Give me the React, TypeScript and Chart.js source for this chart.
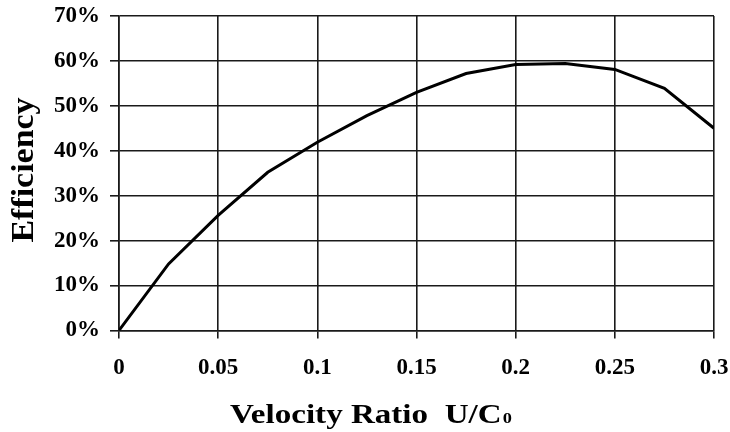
import React, { useEffect, useRef } from "react";
import { Chart, registerables } from "chart.js";

Chart.register(...registerables);

const velocityRatio = [0, 0.025, 0.05, 0.075, 0.1, 0.125, 0.15, 0.175, 0.2, 0.225, 0.25, 0.275, 0.3];
const efficiency = [0, 14.8, 25.6, 35.2, 41.9, 47.8, 53.0, 57.2, 59.2, 59.4, 58.1, 53.9, 45.0];
const xTickValues = [0, 0.05, 0.1, 0.15, 0.2, 0.25, 0.3];
const yTickValues = [0, 10, 20, 30, 40, 50, 60, 70];
const yTitle = "Efficiency";
const xTitleMain = "Velocity Ratio  U/C";
const xTitleSub = "0";

const SERIF = '"Liberation Serif", "Times New Roman", serif';

const titlePlugin = {
  id: "axisTitles",
  afterDraw(chart: any) {
    const ctx = chart.ctx as CanvasRenderingContext2D;
    ctx.save();
    ctx.fillStyle = "#000";
    // Y title, rotated
    ctx.save();
    ctx.translate(33, 170);
    ctx.rotate(-Math.PI / 2);
    ctx.font = `bold 31px ${SERIF}`;
    const yw = ctx.measureText(yTitle).width;
    ctx.scale(145 / yw, 1);
    ctx.textAlign = "center";
    ctx.textBaseline = "alphabetic";
    ctx.fillText(yTitle, 0, 0);
    ctx.restore();
    // X title
    ctx.save();
    ctx.font = `bold 27px ${SERIF}`;
    const mw = ctx.measureText(xTitleMain).width;
    ctx.font = `bold 15px ${SERIF}`;
    const sw = ctx.measureText(xTitleSub).width;
    const total = mw + sw + 1;
    ctx.translate(230, 423);
    ctx.scale(282 / total, 1);
    ctx.textAlign = "left";
    ctx.textBaseline = "alphabetic";
    ctx.font = `bold 27px ${SERIF}`;
    ctx.fillText(xTitleMain, 0, 0);
    ctx.font = `bold 15px ${SERIF}`;
    ctx.fillText(xTitleSub, mw + 1, 0);
    ctx.restore();
    ctx.restore();
  },
};

export default function App() {
  const ref = useRef<HTMLCanvasElement>(null);
  useEffect(() => {
    document.body.style.margin = "0";
    const ctx = ref.current!.getContext("2d")!;
    const chart = new Chart(ctx, {
      type: "scatter",
      data: {
        datasets: [
          {
            data: velocityRatio.map((x, i) => ({ x, y: efficiency[i] })),
            showLine: true,
            borderColor: "#000",
            borderWidth: 3,
            pointRadius: 0,
            tension: 0,
          },
        ],
      },
      options: {
        animation: false,
        responsive: false,
        devicePixelRatio: 1,
        layout: { padding: { left: 44, right: 16, top: 16, bottom: 34 } },
        plugins: { legend: { display: false }, tooltip: { enabled: false } },
        scales: {
          x: {
            type: "linear",
            min: 0,
            max: 0.3,
            afterBuildTicks: (axis: any) => {
              axis.ticks = xTickValues.map((v) => ({ value: v }));
            },
            afterFit: (axis: any) => {
              axis.paddingLeft = 0;
              axis.paddingRight = 0;
            },
            ticks: {
              color: "#000",
              font: { family: SERIF, size: 23, weight: "bold" },
              padding: 16,
              maxRotation: 0,
              callback: (v: any) => String(Number(Number(v).toFixed(3))),
            },
            grid: { color: "#1a1a1a", lineWidth: 1.6, tickLength: 8 },
            border: { color: "#1a1a1a", width: 1.6 },
          },
          y: {
            type: "linear",
            min: 0,
            max: 70,
            afterBuildTicks: (axis: any) => {
              axis.ticks = yTickValues.map((v) => ({ value: v }));
            },
            afterFit: (axis: any) => {
              axis.paddingTop = 0;
              axis.paddingBottom = 0;
            },
            ticks: {
              color: "#000",
              font: { family: SERIF, size: 23, weight: "bold" },
              padding: 10,
              callback: (v: any) => `${v}%`,
            },
            grid: { color: "#1a1a1a", lineWidth: 1.6, tickLength: 9 },
            border: { color: "#1a1a1a", width: 1.6 },
          },
        },
      },
      plugins: [titlePlugin],
    });
    return () => chart.destroy();
  }, []);
  return <canvas ref={ref} width={730} height={432} style={{ display: "block" }} />;
}
